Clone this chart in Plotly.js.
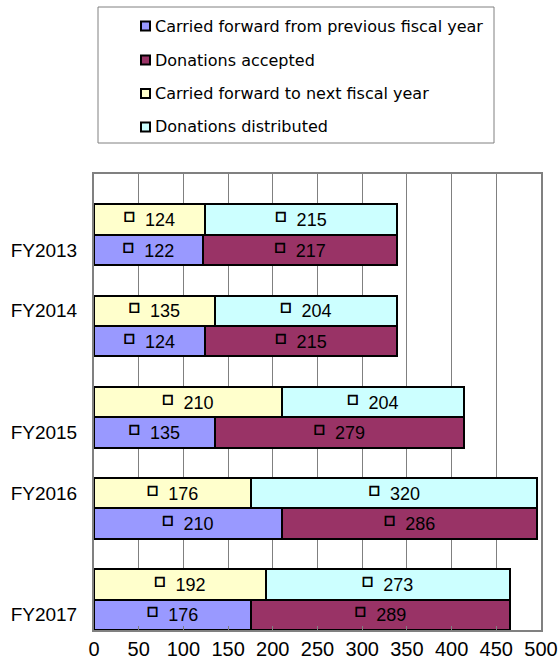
<!DOCTYPE html>
<html>
<head>
<meta charset="utf-8">
<script src="https://cdn.plot.ly/plotly-3.0.1.min.js"></script>
<style>html,body{margin:0;padding:0;background:#fff;}</style>
</head>
<body>
<div id="chart" style="width:558px;height:662px;"></div>
<script>
// ---- data ----
const years = ["FY2013", "FY2014", "FY2015", "FY2016", "FY2017"];
const carriedFromPrev = [122, 124, 135, 210, 176];
const accepted = [217, 215, 279, 286, 289];
const carriedToNext = [124, 135, 210, 176, 192];
const distributed = [215, 204, 204, 320, 273];
const seriesNames = [
  "Carried forward from previous fiscal year",
  "Donations accepted",
  "Carried forward to next fiscal year",
  "Donations distributed"
];
const xTicks = [0, 50, 100, 150, 200, 250, 300, 350, 400, 450, 500];

// ---- layout helpers ----
const colors = ["#9999FF", "#993366", "#FFFFCC", "#CCFFFF"];
const topY = years.map((_, i) => 3 * i + 1.5);
const botY = years.map((_, i) => 3 * i + 2.5);
// category label sits on bottom bar / top bar alternately as in reference
const labelY = years.map((_, i) => (i % 2 === 0 ? botY[i] : topY[i]));

const SQ = "<span style=\"font-family:'DejaVu Sans';font-weight:bold;font-size:12px;stroke:#000;stroke-width:0.9px;baseline-shift:6px\">\u25A1</span>\u00a0\u00a0";
function mk(vals, y, idx) {
  return {
    type: "bar", orientation: "h",
    x: vals, y: y, width: 1,
    name: seriesNames[idx],
    marker: { color: colors[idx], line: { color: "#000", width: 2 } },
    text: vals.map(v => SQ + v),
    textposition: "inside", insidetextanchor: "middle",
    textangle: 0, constraintext: "none",
    textfont: { family: "Liberation Sans, Arial, sans-serif", size: 18, color: "#000" },
    hoverinfo: "skip", showlegend: false
  };
}
const traces = [
  mk(carriedFromPrev, botY, 0),
  mk(accepted, botY, 1),
  mk(carriedToNext, topY, 2),
  mk(distributed, topY, 3)
];

// plot area in px
const L = 94, R = 541, T = 174, B = 630;
const px2x = p => (p - L) / (R - L);
const px2y = p => (B - p) / (B - T);

const shapes = [{
  type: "rect", xref: "paper", yref: "paper",
  x0: px2x(98), x1: px2x(494), y0: px2y(7), y1: px2y(143),
  line: { color: "#808080", width: 1 }, fillcolor: "#fff"
}];
const annotations = [];
const legendCY = [26, 60, 93.5, 127];
seriesNames.forEach((n, i) => {
  shapes.push({
    type: "rect", xref: "paper", yref: "paper",
    x0: px2x(141), x1: px2x(150), y0: px2y(legendCY[i] + 4.5), y1: px2y(legendCY[i] - 4.5),
    line: { color: "#000", width: 2 }, fillcolor: colors[i]
  });
  annotations.push({
    xref: "paper", yref: "paper", x: px2x(153), y: px2y(legendCY[i]),
    xanchor: "left", yanchor: "middle", showarrow: false, text: n,
    font: { family: "DejaVu Sans, sans-serif", size: 16, color: "#000" }
  });
});

const layout = {
  width: 558, height: 662,
  margin: { l: L, r: 558 - R, t: T, b: 662 - B, pad: 0 },
  paper_bgcolor: "#fff", plot_bgcolor: "#fff",
  barmode: "stack",
  showlegend: false,
  xaxis: {
    range: [0, 500], tickvals: xTicks, ticktext: xTicks.map(String),
    showgrid: true, gridcolor: "#808080", gridwidth: 1,
    zeroline: false, ticks: "inside", ticklen: 4, tickcolor: "#808080",
    showline: true, linecolor: "#808080", linewidth: 2, mirror: true,
    tickfont: { family: "Liberation Sans, Arial, sans-serif", size: 20, color: "#000" },
    fixedrange: true
  },
  yaxis: {
    range: [15, 0], tickvals: labelY, ticktext: years,
    showgrid: false, zeroline: false, ticks: "",
    showline: true, linecolor: "#808080", linewidth: 2, mirror: true,
    ticklabelstandoff: 11,
    tickfont: { family: "Liberation Sans, Arial, sans-serif", size: 19, color: "#000" },
    fixedrange: true
  },
  shapes: shapes,
  annotations: annotations
};

Plotly.newPlot("chart", traces, layout, { displayModeBar: false, staticPlot: true });
</script>
</body>
</html>
